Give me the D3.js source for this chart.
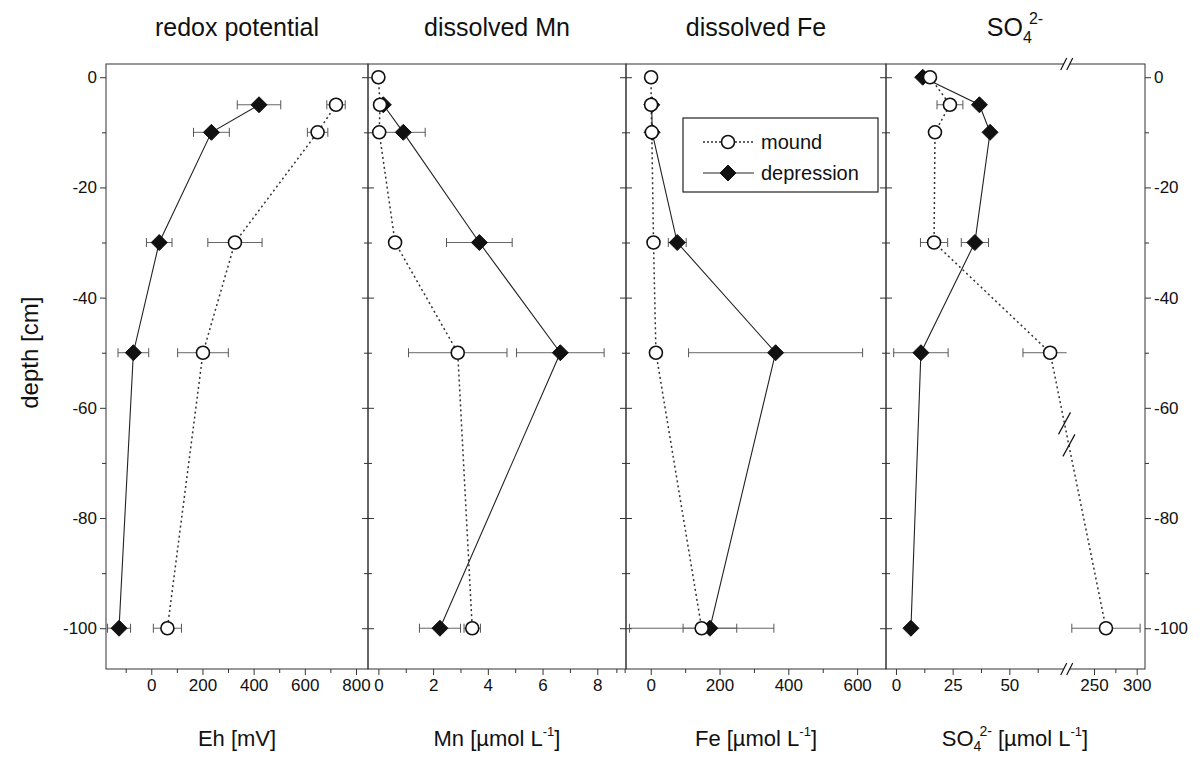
<!DOCTYPE html>
<html>
<head>
<meta charset="utf-8">
<script src="https://cdn.jsdelivr.net/npm/d3@7"></script>
<style>
  body { margin: 0; background: #fff; }
  svg text { font-family: "Liberation Sans", Arial, sans-serif; fill: #111; }
</style>
</head>
<body>
<svg id="chart" width="1202" height="759"></svg>
<script>
// depths of the samples (cm)
var depth = [0, -5, -10, -30, -50, -100];

// redox potential, Eh [mV] (no sample at 0 cm)
var ehMound = [null, 722, 650, 327, 202, 63];
var ehMoundErr = [null, 36, 40, 106, 99, 55];
var ehDep = [null, 421, 235, 31, -70, -126];
var ehDepErr = [null, 85, 70, 50, 60, 45];

// dissolved Mn [umol/L]
var mnMound = [0, 0.06, 0.03, 0.61, 2.90, 3.43];
var mnMoundErr = [0, 0.05, 0.05, 0.1, 1.8, 0.3];
var mnDep = [null, 0.18, 0.91, 3.69, 6.65, 2.25];
var mnDepErr = [null, 0.1, 0.8, 1.2, 1.6, 0.75];

// dissolved Fe [umol/L]
var feMound = [1, 1, 3, 8, 15, 148];
var feMoundErr = [0, 2, 2, 3, 3, 210];
var feDep = [null, 3, 4, 77, 363, 172];
var feDepErr = [null, 5, 5, 26, 253, 78];

// sulfate [umol/L]
var so4Mound = [15, 23.8, 17.2, 16.8, 68, 264];
var so4MoundErr = [1, 5.7, 1, 6, 12, 40];
var so4Dep = [11.8, 36.8, 41.5, 34.8, 11, 6.6];
var so4DepErr = [0, 1, 1, 6, 12, 1];

// ticks
var depthTicks = [0, -20, -40, -60, -80, -100];
var depthMinor = [-10, -30, -50, -70, -90];
var ehTicks = [0, 200, 400, 600, 800], ehMinor = [-100, 100, 300, 500, 700];
var mnTicks = [0, 2, 4, 6, 8], mnMinor = [1, 3, 5, 7, 9];
var feTicks = [0, 200, 400, 600], feMinor = [-100, 100, 300, 500];
var so4LoTicks = [0, 25, 50], so4LoMinor = [12.5, 37.5, 62.5];
var so4HiTicks = [250, 300], so4HiMinor = [275];

var svg = d3.select('#chart');
var top0 = 64, bottom0 = 669;
var edges = [106, 368, 626, 886, 1145];

var y = d3.scaleLinear().domain([2.4, -107.4]).range([top0, bottom0]);

var xEh = d3.scaleLinear().domain([-177, 847]).range([edges[0], edges[1]]);
var xMn = d3.scaleLinear().domain([-0.38, 9.05]).range([edges[1], edges[2]]);
var xFe = d3.scaleLinear().domain([-72, 684]).range([edges[2], edges[3]]);
var breakX = 1066.7;
var xSoLo = d3.scaleLinear().domain([-4.4, 75.3]).range([edges[3], breakX]);
var xSoHi = d3.scaleLinear().domain([218, 309.7]).range([breakX, edges[4]]);
function xSo(v) {
  if (v <= 75.3) return xSoLo(v);
  if (v >= 218) return xSoHi(v);
  return breakX;
}

var fmt = function (d) { return String(d); };

function styleAxis(g) {
  g.select('.domain').remove();
  g.selectAll('line').attr('stroke', '#333');
  g.selectAll('text').attr('font-size', 17).attr('fill', '#111')
    .style('font-family', '"Liberation Sans", Arial, sans-serif');
}

function xAxis(scale, major, minor) {
  var g = svg.append('g').attr('transform', 'translate(0,' + bottom0 + ')');
  g.append('g').call(d3.axisBottom(scale).tickValues(major).tickSize(6).tickPadding(4).tickFormat(fmt)).call(styleAxis);
  g.append('g').call(d3.axisBottom(scale).tickValues(minor).tickSize(4).tickFormat('')).call(styleAxis);
}

function yAxes(i) {
  var l = svg.append('g').attr('transform', 'translate(' + edges[i] + ',0)');
  var r = svg.append('g').attr('transform', 'translate(' + edges[i + 1] + ',0)');
  l.append('g').call(d3.axisLeft(y).tickValues(depthTicks).tickSize(6).tickPadding(3)
    .tickFormat(i == 0 ? fmt : '')).call(styleAxis);
  l.append('g').call(d3.axisLeft(y).tickValues(depthMinor).tickSize(4).tickFormat('')).call(styleAxis);
  r.append('g').call(d3.axisRight(y).tickValues(depthTicks).tickSize(6).tickPadding(3)
    .tickFormat(i == 3 ? fmt : '')).call(styleAxis);
  r.append('g').call(d3.axisRight(y).tickValues(depthMinor).tickSize(4).tickFormat('')).call(styleAxis);
}

// panel frames
for (var i = 0; i < 4; i++) {
  svg.append('rect')
    .attr('x', edges[i]).attr('y', top0)
    .attr('width', edges[i + 1] - edges[i]).attr('height', bottom0 - top0)
    .attr('fill', 'none').attr('stroke', '#333').attr('stroke-width', 1);
  yAxes(i);
}

xAxis(xEh, ehTicks, ehMinor);
xAxis(xMn, mnTicks, mnMinor);
xAxis(xFe, feTicks, feMinor);
xAxis(xSoLo, so4LoTicks, so4LoMinor);
xAxis(xSoHi, so4HiTicks, so4HiMinor);

// axis break marks on the SO4 frame
[top0, bottom0].forEach(function (yy) {
  svg.append('rect').attr('x', breakX - 3).attr('y', yy - 1.5).attr('width', 6).attr('height', 3).attr('fill', '#fff');
  [-3, 3].forEach(function (dx) {
    svg.append('line')
      .attr('x1', breakX + dx - 3).attr('y1', yy + 6)
      .attr('x2', breakX + dx + 3).attr('y2', yy - 6)
      .attr('stroke', '#111').attr('stroke-width', 1.2);
  });
});

function rows(vals, errs) {
  var out = [];
  depth.forEach(function (d, k) {
    if (vals[k] != null) out.push({ d: d, v: vals[k], e: errs[k] });
  });
  return out;
}

function diamond(g, cx, cy) {
  var s = 8;
  g.append('path')
    .attr('d', 'M' + cx + ',' + (cy - s) + 'L' + (cx + s) + ',' + cy + 'L' + cx + ',' + (cy + s) + 'L' + (cx - s) + ',' + cy + 'Z')
    .attr('fill', '#111').attr('stroke', '#111').attr('stroke-width', 1);
}
function circle(g, cx, cy) {
  g.append('circle').attr('cx', cx).attr('cy', cy).attr('r', 6.5)
    .attr('fill', '#fff').attr('stroke', '#111').attr('stroke-width', 1.6);
}

function drawSeries(xs, mVals, mErr, dVals, dErr) {
  var g = svg.append('g');
  var m = rows(mVals, mErr), dp = rows(dVals, dErr);
  var line = d3.line().x(function (p) { return xs(p.v); }).y(function (p) { return y(p.d); });

  g.append('path').datum(m).attr('d', line).attr('fill', 'none')
    .attr('stroke', '#333').attr('stroke-width', 1.5).attr('stroke-dasharray', '2,3');
  g.append('path').datum(dp).attr('d', line).attr('fill', 'none')
    .attr('stroke', '#222').attr('stroke-width', 1.1);

  m.concat(dp).forEach(function (p) {
    if (!p.e) return;
    var x1 = xs(p.v - p.e), x2 = xs(p.v + p.e), yy = y(p.d);
    g.append('line').attr('x1', x1).attr('x2', x2).attr('y1', yy).attr('y2', yy)
      .attr('stroke', '#666').attr('stroke-width', 1);
    [x1, x2].forEach(function (xx) {
      if (xx == breakX) return;
      g.append('line').attr('x1', xx).attr('x2', xx).attr('y1', yy - 4.5).attr('y2', yy + 4.5)
        .attr('stroke', '#555').attr('stroke-width', 1);
    });
  });

  dp.forEach(function (p) { diamond(g, xs(p.v), y(p.d)); });
  m.forEach(function (p) { circle(g, xs(p.v), y(p.d)); });
  return m;
}

drawSeries(xEh, ehMound, ehMoundErr, ehDep, ehDepErr);
drawSeries(xMn, mnMound, mnMoundErr, mnDep, mnDepErr);
drawSeries(xFe, feMound, feMoundErr, feDep, feDepErr);
var soM = drawSeries(xSo, so4Mound, so4MoundErr, so4Dep, so4DepErr);

// break slashes where the mound sulfate line crosses the axis break
(function () {
  for (var k = 1; k < soM.length; k++) {
    var a = soM[k - 1], b = soM[k];
    var xa = xSo(a.v), xb = xSo(b.v);
    if ((xa - breakX) * (xb - breakX) < 0) {
      var t = (breakX - xa) / (xb - xa);
      var yc = y(a.d) + t * (y(b.d) - y(a.d));
      [-11, 11].forEach(function (dy) {
        var cx = breakX + dy * (xb - xa) / (y(b.d) - y(a.d)), cy = yc + dy;
        svg.append('line').attr('x1', cx - 6).attr('y1', cy + 11).attr('x2', cx + 6).attr('y2', cy - 11)
          .attr('stroke', '#111').attr('stroke-width', 1.2);
      });
    }
  }
})();

// legend
var lg = svg.append('g');
lg.append('rect').attr('x', 683).attr('y', 118).attr('width', 195).attr('height', 74)
  .attr('fill', '#fff').attr('stroke', '#222').attr('stroke-width', 1.2);
lg.append('line').attr('x1', 703).attr('x2', 754).attr('y1', 142).attr('y2', 142)
  .attr('stroke', '#333').attr('stroke-width', 1.3).attr('stroke-dasharray', '2,2');
circle(lg, 728, 142);
lg.append('line').attr('x1', 703).attr('x2', 754).attr('y1', 173).attr('y2', 173)
  .attr('stroke', '#222').attr('stroke-width', 1.1);
diamond(lg, 728, 173);
lg.append('text').attr('x', 761).attr('y', 149).attr('font-size', 20).text('mound');
lg.append('text').attr('x', 761).attr('y', 180).attr('font-size', 20).text('depression');

// titles
var centers = [237, 497, 756, 1015];
var titles = ['redox potential', 'dissolved Mn', 'dissolved Fe'];
titles.forEach(function (t, k) {
  svg.append('text').attr('x', centers[k]).attr('y', 36).attr('text-anchor', 'middle')
    .attr('font-size', 25).text(t);
});
var soT = svg.append('text').attr('x', centers[3]).attr('y', 36).attr('text-anchor', 'middle').attr('font-size', 25);
soT.append('tspan').text('SO');
soT.append('tspan').attr('font-size', 16).attr('dy', 7).text('4');
soT.append('tspan').attr('font-size', 16).attr('dy', -19).attr('dx', -3).text('2-');

// x axis labels
function unitLabel(cx, name, so) {
  var t = svg.append('text').attr('x', cx).attr('y', 746).attr('text-anchor', 'middle').attr('font-size', 22);
  t.append('tspan').text(name);
  if (so) {
    t.append('tspan').attr('font-size', 14).attr('dy', 5).text('4');
    t.append('tspan').attr('font-size', 14).attr('dy', -15).attr('dx', -2).text('2-');
    t.append('tspan').attr('dy', 10).text(' [µmol L');
  } else {
    t.append('tspan').text(' [µmol L');
  }
  t.append('tspan').attr('font-size', 13).attr('dy', -10).text('-1');
  t.append('tspan').attr('dy', 10).text(']');
}
svg.append('text').attr('x', centers[0]).attr('y', 746).attr('text-anchor', 'middle').attr('font-size', 22).text('Eh [mV]');
unitLabel(centers[1], 'Mn', false);
unitLabel(centers[2], 'Fe', false);
unitLabel(centers[3], 'SO', true);

// y axis label
svg.append('text').attr('transform', 'translate(38,' + y(-50) + ') rotate(-90)')
  .attr('text-anchor', 'middle').attr('font-size', 24).text('depth [cm]');
</script>
</body>
</html>
